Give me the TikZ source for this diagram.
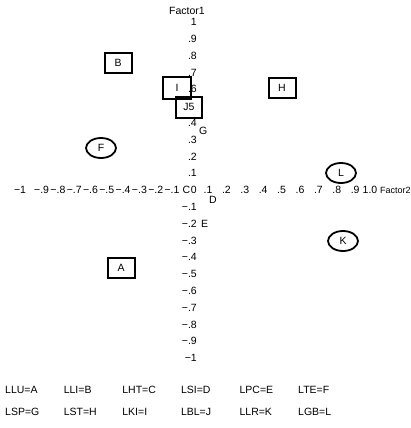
\documentclass[tikz,border=0pt]{standalone}
\usepackage{fontspec}
\setmainfont{Liberation Sans}
\usetikzlibrary{shapes.geometric}
\tikzset{
         lbl/.style={font=\fontsize{10.5}{12}\selectfont,inner sep=0pt},
         tick/.style={lbl,anchor=east},
         ptbox/.style={lbl,draw,line width=2pt,minimum width=27pt,minimum height=20pt},
         ptoval/.style={lbl,draw,ellipse,line width=1.8pt,minimum width=30pt,minimum height=20pt},
         legend/.style={lbl,anchor=west}
        }

\begin{document}
\begin{tikzpicture}[x=1pt,y=-1pt]
      \useasboundingbox (0,0) rectangle (410,428); % page size
      \node[lbl] (factor1) at (187,11) {Factor1}; % Factor1 label
      \node[tick] (v10) at (197,22) {1}; % top tick
      \foreach \k in {1,2,3,4,6,7,8,9}
        \node[tick] (vp\k) at (197,{190-16.8*\k}) {.\k}; % positive ticks
      \foreach \k in {1,...,9}
        \node[tick] (vm\k) at (197,{190+16.8*\k}) {−.\k}; % negative ticks
      \node[tick] (vm10) at (197,358) {−1}; % bottom tick
      \node[tick] (zero) at (197,190) {0}; % origin tick
      \node[lbl] (hm10) at (20,190) {−1}; % left end
      \foreach \k in {1,...,9}
        \node[lbl] (hm\k) at ({172-16.3*(\k-1)},190) {−.\k}; % negative ticks
      \foreach \k in {1,...,9}
        \node[lbl] (hp\k) at ({208+18.4*(\k-1)},190) {.\k}; % positive ticks
      \node[lbl] (hp10) at (370,190) {1.0}; % right end
      \node[lbl,anchor=west,font=\fontsize{9}{11}\selectfont] (factor2) at (380,190) {Factor2}; % Factor2 label
      \node[ptbox] (ptA) at (121,268) {A}; % LLU
      \node[ptbox] (ptB) at (118,63) {B}; % LLI
      \node[lbl,anchor=east] (ptC) at (190.5,190) {C}; % LHT
      \node[lbl] (ptD) at (213,200) {D}; % LSI
      \node[lbl,anchor=west] (ptE) at (201,224) {E}; % LPC
      \node[ptoval] (ptF) at (101,148) {F}; % LTE
      \node[lbl,anchor=west] (ptG) at (199,131) {G}; % LSP
      \node[ptbox] (ptH) at (282,88) {H}; % LST
      \node[ptbox,minimum width=28pt,minimum height=22pt] (ptI) at (177,88) {I}; % LKI
      \node[ptbox,minimum width=26pt,minimum height=21pt] (ptJ) at (189,107) {J5}; % LBL
      \node[ptoval] (ptK) at (343,241) {K}; % LLR
      \node[ptoval] (ptL) at (341,173) {L}; % LGB
      \foreach \t [count=\i from 0] in {LLU=A,LLI=B,LHT=C,LSI=D,LPC=E,LTE=F}
        \node[legend] (lega\i) at ({5+58.6*\i},390) {\t}; % legend row 1
      \foreach \t [count=\i from 0] in {LSP=G,LST=H,LKI=I,LBL=J,LLR=K,LGB=L}
        \node[legend] (legb\i) at ({5+58.6*\i},412) {\t}; % legend row 2
   \end{tikzpicture}
\end{document}
